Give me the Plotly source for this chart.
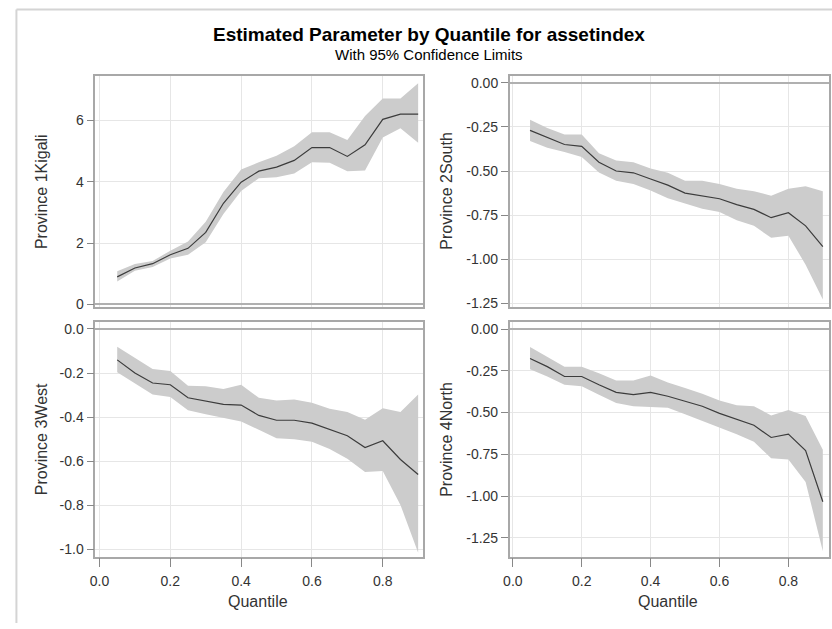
import plotly.graph_objects as go

quantiles = [0.05, 0.10, 0.15, 0.20, 0.25, 0.30, 0.35, 0.40, 0.45, 0.50,
             0.55, 0.60, 0.65, 0.70, 0.75, 0.80, 0.85, 0.90]

kigali_est = [0.90, 1.19, 1.33, 1.62, 1.83, 2.35, 3.30, 3.99, 4.35, 4.48,
              4.70, 5.12, 5.12, 4.83, 5.21, 6.04, 6.21, 6.21]
kigali_up = [1.08, 1.32, 1.42, 1.75, 2.05, 2.70, 3.67, 4.40, 4.64, 4.85,
             5.16, 5.62, 5.62, 5.37, 6.15, 6.72, 6.72, 7.22]
kigali_lo = [0.75, 1.10, 1.22, 1.50, 1.62, 2.03, 2.95, 3.70, 4.12, 4.15,
             4.27, 4.64, 4.62, 4.35, 4.37, 5.45, 5.75, 5.28]

south_est = [-0.27, -0.31, -0.35, -0.36, -0.45, -0.50, -0.51, -0.545, -0.58, -0.625,
             -0.64, -0.657, -0.69, -0.717, -0.764, -0.736, -0.81, -0.928]
south_up = [-0.21, -0.256, -0.293, -0.293, -0.40, -0.44, -0.45, -0.486, -0.51, -0.555,
            -0.555, -0.573, -0.60, -0.614, -0.64, -0.60, -0.586, -0.614]
south_lo = [-0.33, -0.368, -0.392, -0.42, -0.508, -0.555, -0.573, -0.61, -0.654, -0.685,
            -0.713, -0.732, -0.778, -0.81, -0.878, -0.866, -1.03, -1.227]

west_est = [-0.14, -0.20, -0.245, -0.253, -0.312, -0.327, -0.342, -0.345, -0.392, -0.414,
            -0.414, -0.427, -0.454, -0.484, -0.538, -0.507, -0.592, -0.66]
west_up = [-0.08, -0.133, -0.182, -0.19, -0.257, -0.26, -0.272, -0.253, -0.312, -0.324,
           -0.32, -0.335, -0.362, -0.377, -0.412, -0.36, -0.377, -0.297]
west_lo = [-0.196, -0.245, -0.297, -0.308, -0.369, -0.387, -0.402, -0.42, -0.457, -0.495,
           -0.50, -0.511, -0.544, -0.589, -0.649, -0.644, -0.798, -1.015]

north_est = [-0.176, -0.225, -0.284, -0.284, -0.333, -0.379, -0.393, -0.379, -0.402, -0.432,
             -0.462, -0.505, -0.54, -0.576, -0.649, -0.629, -0.728, -1.034]
north_up = [-0.107, -0.166, -0.225, -0.225, -0.264, -0.308, -0.308, -0.278, -0.32, -0.353,
            -0.387, -0.428, -0.456, -0.462, -0.517, -0.485, -0.52, -0.722]
north_lo = [-0.24, -0.284, -0.333, -0.343, -0.393, -0.442, -0.462, -0.465, -0.471, -0.51,
            -0.55, -0.59, -0.629, -0.675, -0.773, -0.781, -0.915, -1.33]

panel_labels = ["Province 1Kigali", "Province 2South", "Province 3West", "Province 4North"]
x_tick_vals = [0.0, 0.2, 0.4, 0.6, 0.8]
x_tick_text = ["0.0", "0.2", "0.4", "0.6", "0.8"]
kigali_ticks = [0, 2, 4, 6]
kigali_tick_text = ["0", "2", "4", "6"]
quarter_ticks = [0.0, -0.25, -0.5, -0.75, -1.0, -1.25]
quarter_tick_text = ["0.00", "-0.25", "-0.50", "-0.75", "-1.00", "-1.25"]
fifth_ticks = [0.0, -0.2, -0.4, -0.6, -0.8, -1.0]
fifth_tick_text = ["0.0", "-0.2", "-0.4", "-0.6", "-0.8", "-1.0"]
x_label = "Quantile"
title_text = "Estimated Parameter by Quantile for assetindex"
subtitle_text = "With 95% Confidence Limits"

W, H = 832, 629
FONT = "Liberation Sans, Arial, sans-serif"
FRAME = "#a8a8a8"
GRID = "#e6e6e6"
BAND = "#cccccc"
LINE = "#3c3c3c"
TXT = "#333333"

def px(v):
    return v / W

def py(v):
    return 1 - v / H

panels = [
    dict(est=kigali_est, up=kigali_up, lo=kigali_lo, x=(89, 420), y=(76, 309),
         xr=[-0.012, 0.915], yr=[-0.07, 7.45], tv=kigali_ticks, tt=kigali_tick_text),
    dict(est=south_est, up=south_up, lo=south_lo, x=(507, 829), y=(76, 309),
         xr=[-0.009, 0.918], yr=[-1.267, 0.037], tv=quarter_ticks, tt=quarter_tick_text),
    dict(est=west_est, up=west_up, lo=west_lo, x=(89, 420), y=(325, 562),
         xr=[-0.012, 0.915], yr=[-1.033, 0.03], tv=fifth_ticks, tt=fifth_tick_text),
    dict(est=north_est, up=north_up, lo=north_lo, x=(507, 829), y=(325, 562),
         xr=[-0.009, 0.918], yr=[-1.363, 0.04], tv=quarter_ticks, tt=quarter_tick_text),
]

fig = go.Figure()
layout = dict(
    width=W, height=H,
    margin=dict(l=0, r=0, t=0, b=0),
    paper_bgcolor="white", plot_bgcolor="white",
    showlegend=False,
    font=dict(family=FONT, size=13, color=TXT),
)

annotations = []
shapes = []
for i, p in enumerate(panels):
    n = "" if i == 0 else str(i + 1)
    xa, ya = "x" + n, "y" + n
    fig.add_trace(go.Scatter(x=quantiles, y=p["lo"], mode="lines",
                             line=dict(width=0, color=BAND), hoverinfo="skip",
                             xaxis=xa, yaxis=ya))
    fig.add_trace(go.Scatter(x=quantiles, y=p["up"], mode="lines", fill="tonexty",
                             fillcolor=BAND, line=dict(width=0, color=BAND),
                             hoverinfo="skip", xaxis=xa, yaxis=ya))
    fig.add_trace(go.Scatter(x=quantiles, y=p["est"], mode="lines",
                             line=dict(width=1.2, color=LINE), xaxis=xa, yaxis=ya))
    bottom = i >= 2
    layout["xaxis" + n] = dict(
        domain=[px(p["x"][0]), px(p["x"][1])], anchor=ya, range=p["xr"],
        tickvals=x_tick_vals, ticktext=x_tick_text, showticklabels=bottom,
        ticks="outside" if bottom else "", ticklen=9, tickcolor="#888888",
        ticklabelstandoff=2,
        showgrid=True, gridcolor=GRID, gridwidth=1,
        showline=True, linecolor=FRAME, linewidth=1.5, mirror=True,
        zeroline=False, fixedrange=True,
        tickfont=dict(size=14, color=TXT),
    )
    layout["yaxis" + n] = dict(
        domain=[py(p["y"][1]), py(p["y"][0])], anchor=xa, range=p["yr"],
        tickvals=p["tv"], ticktext=p["tt"],
        ticks="outside", ticklen=7, tickcolor="#888888",
        showgrid=True, gridcolor=GRID, gridwidth=1,
        showline=True, linecolor=FRAME, linewidth=1.5, mirror=True,
        zeroline=True, zerolinecolor="#b0b0b0", zerolinewidth=2,
        fixedrange=True,
        tickfont=dict(size=14, color=TXT),
    )
    lab_x = 35 if i % 2 == 0 else 443
    annotations.append(dict(
        text=panel_labels[i], textangle=-90, x=px(lab_x),
        y=py((p["y"][0] + p["y"][1]) / 2), xref="paper", yref="paper",
        showarrow=False, xanchor="center", yanchor="middle",
        font=dict(size=16, color=TXT, family=FONT)))
    if bottom:
        annotations.append(dict(
            text=x_label, x=px(253 if i == 2 else 667),
            y=py(607), xref="paper", yref="paper", showarrow=False,
            xanchor="center", yanchor="middle",
            font=dict(size=16, color=TXT, family=FONT)))

annotations.append(dict(text="<b>" + title_text + "</b>", x=px(426), y=py(34),
                        xref="paper", yref="paper", showarrow=False,
                        xanchor="center", yanchor="middle",
                        font=dict(size=19, color="#000000", family=FONT)))
annotations.append(dict(text=subtitle_text, x=px(426), y=py(54),
                        xref="paper", yref="paper", showarrow=False,
                        xanchor="center", yanchor="middle",
                        font=dict(size=15, color="#000000", family=FONT)))

shapes.append(dict(type="line", xref="paper", yref="paper",
                   x0=px(9.5), x1=1, y0=py(8.5), y1=py(8.5),
                   line=dict(color="#d4d4d4", width=2)))
shapes.append(dict(type="line", xref="paper", yref="paper",
                   x0=px(9.5), x1=px(9.5), y0=0, y1=py(8.5),
                   line=dict(color="#d4d4d4", width=2)))

layout["annotations"] = annotations
layout["shapes"] = shapes
fig.update_layout(**layout)
fig.write_html("out.html", config={"displayModeBar": False},
               post_script="document.body.style.margin='0';document.body.style.overflow='hidden';")
